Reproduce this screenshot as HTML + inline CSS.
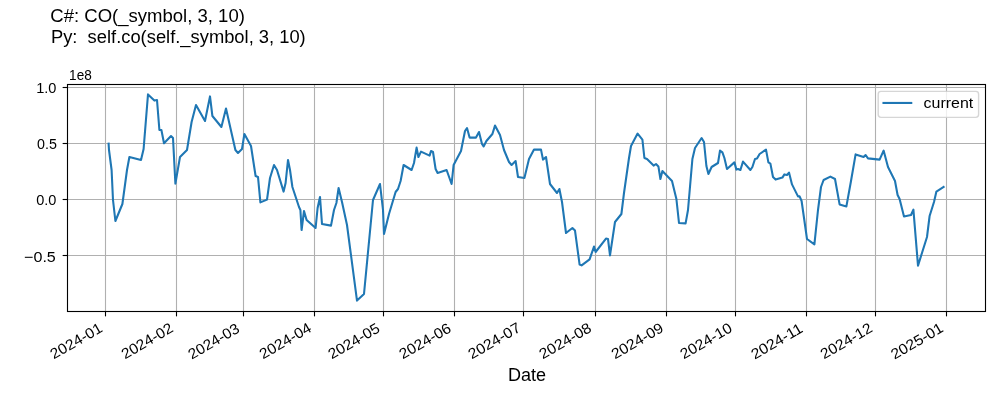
<!DOCTYPE html>
<html><head><meta charset="utf-8"><title>chart</title>
<style>
html,body{margin:0;padding:0;background:#fff;}
svg{display:block;will-change:transform;}
text{font-family:"Liberation Sans", sans-serif;fill:#000;white-space:pre;}
</style></head>
<body>
<svg width="1000" height="400" viewBox="0 0 1000 400">
<rect x="0" y="0" width="1000" height="400" fill="#fff"/>
<defs><clipPath id="ax"><rect x="67.5" y="84.5" width="918.0" height="227.0"/></clipPath></defs>
<g stroke="#b0b0b0" stroke-width="1.111" fill="none">
<line x1="105.5" y1="84.5" x2="105.5" y2="311.5"/>
<line x1="176.5" y1="84.5" x2="176.5" y2="311.5"/>
<line x1="243.5" y1="84.5" x2="243.5" y2="311.5"/>
<line x1="314.5" y1="84.5" x2="314.5" y2="311.5"/>
<line x1="383.5" y1="84.5" x2="383.5" y2="311.5"/>
<line x1="454.5" y1="84.5" x2="454.5" y2="311.5"/>
<line x1="523.5" y1="84.5" x2="523.5" y2="311.5"/>
<line x1="595.5" y1="84.5" x2="595.5" y2="311.5"/>
<line x1="666.5" y1="84.5" x2="666.5" y2="311.5"/>
<line x1="735.5" y1="84.5" x2="735.5" y2="311.5"/>
<line x1="806.5" y1="84.5" x2="806.5" y2="311.5"/>
<line x1="875.5" y1="84.5" x2="875.5" y2="311.5"/>
<line x1="946.5" y1="84.5" x2="946.5" y2="311.5"/>
<line x1="67.5" y1="87.5" x2="985.5" y2="87.5"/>
<line x1="67.5" y1="143.5" x2="985.5" y2="143.5"/>
<line x1="67.5" y1="199.5" x2="985.5" y2="199.5"/>
<line x1="67.5" y1="255.5" x2="985.5" y2="255.5"/>
</g>
<polyline clip-path="url(#ax)" points="108.6,143.6 109.0,150.0 111.6,170.0 113.0,200.0 115.4,221.0 122.4,204.0 127.0,170.0 129.4,157.0 141.0,160.0 143.6,149.0 148.0,94.4 154.4,100.6 157.0,100.0 159.4,130.0 161.4,130.0 164.0,143.2 171.0,136.0 173.0,138.0 175.4,183.6 180.0,157.0 187.0,150.0 191.6,122.0 196.0,105.0 205.0,121.0 210.0,96.4 212.4,116.0 221.4,127.0 226.0,108.6 235.4,150.0 238.0,153.0 242.0,149.0 244.4,134.0 251.0,146.0 255.6,176.0 258.0,177.0 260.4,202.4 267.0,199.6 270.0,178.0 274.0,165.0 277.0,170.0 283.6,191.6 285.6,183.0 288.0,160.0 290.0,170.0 292.4,187.0 299.0,207.0 300.4,210.0 301.6,230.0 304.0,211.0 306.6,220.0 315.6,228.0 317.6,208.0 320.0,197.0 322.0,224.0 331.0,225.6 334.0,210.0 336.4,203.0 338.6,188.0 342.0,202.0 347.0,225.0 357.0,300.6 364.0,294.0 370.6,225.0 373.0,200.0 380.0,184.0 383.0,210.0 384.0,234.0 389.0,214.0 395.6,192.0 398.0,189.0 400.6,181.0 403.6,165.0 411.6,170.0 414.0,163.0 416.6,147.6 418.4,157.0 421.0,151.6 429.6,155.6 431.0,151.0 433.0,152.0 435.6,169.0 437.6,173.0 446.6,170.0 451.6,184.0 453.6,165.0 461.0,151.0 465.0,131.0 467.0,128.0 469.6,137.6 476.0,137.6 479.0,132.0 482.0,144.0 483.6,146.4 486.4,141.0 492.4,134.0 495.0,125.6 500.0,135.0 504.0,150.0 509.0,162.0 511.6,165.0 515.6,161.0 518.0,177.0 524.4,178.0 529.0,159.0 534.0,149.6 541.0,149.6 543.0,159.6 546.0,157.0 550.0,184.0 557.0,193.0 559.4,189.0 562.0,202.0 566.0,233.0 572.4,228.0 575.0,230.6 579.6,264.6 581.6,265.4 589.6,259.4 594.0,246.6 595.6,252.0 606.0,238.6 608.0,239.0 610.0,255.4 615.0,222.0 621.4,214.0 624.0,193.0 629.0,158.0 631.0,146.0 637.6,133.6 642.4,139.6 644.4,158.0 647.0,159.0 653.6,165.6 656.0,164.0 658.4,166.4 660.4,179.0 662.4,171.0 672.0,181.0 676.4,199.0 679.0,223.0 685.6,223.4 688.0,210.0 692.4,159.0 695.0,148.0 701.6,138.0 704.0,142.0 706.4,166.0 708.4,174.0 711.6,167.0 718.0,163.0 720.0,150.6 722.4,152.4 724.4,158.0 727.0,169.0 734.4,162.4 736.4,169.6 738.0,169.0 740.4,170.0 743.0,161.6 750.4,170.0 752.4,167.0 755.0,159.0 757.0,158.6 759.6,154.0 766.0,149.6 768.4,162.4 770.4,163.6 773.0,177.0 775.6,179.6 782.4,177.6 784.4,174.4 787.0,175.0 789.0,172.6 792.0,184.4 798.0,196.4 799.6,196.4 801.6,201.0 807.0,239.0 814.4,244.4 818.0,210.0 821.0,187.0 823.6,180.0 830.4,176.6 835.0,179.0 839.6,204.4 846.4,206.4 851.0,181.0 855.6,154.4 863.6,157.0 865.6,155.0 868.0,158.4 879.6,159.6 883.6,150.6 888.0,167.0 895.0,181.0 897.6,195.0 899.6,199.0 904.0,216.4 911.0,215.0 913.4,209.6 918.0,265.6 927.0,237.0 929.6,216.0 934.0,202.0 936.4,191.6 943.6,187.0" fill="none" stroke="#1f77b4" stroke-width="2.083" stroke-linejoin="round" stroke-linecap="square"/>
<g stroke="#000" stroke-width="1.111" fill="none" stroke-linecap="square">
<rect x="67.5" y="84.5" width="918.0" height="227.0"/>
</g>
<g stroke="#000" stroke-width="1.111">
<line x1="105.5" y1="311.5" x2="105.5" y2="316.36"/>
<line x1="176.5" y1="311.5" x2="176.5" y2="316.36"/>
<line x1="243.5" y1="311.5" x2="243.5" y2="316.36"/>
<line x1="314.5" y1="311.5" x2="314.5" y2="316.36"/>
<line x1="383.5" y1="311.5" x2="383.5" y2="316.36"/>
<line x1="454.5" y1="311.5" x2="454.5" y2="316.36"/>
<line x1="523.5" y1="311.5" x2="523.5" y2="316.36"/>
<line x1="595.5" y1="311.5" x2="595.5" y2="316.36"/>
<line x1="666.5" y1="311.5" x2="666.5" y2="316.36"/>
<line x1="735.5" y1="311.5" x2="735.5" y2="316.36"/>
<line x1="806.5" y1="311.5" x2="806.5" y2="316.36"/>
<line x1="875.5" y1="311.5" x2="875.5" y2="316.36"/>
<line x1="946.5" y1="311.5" x2="946.5" y2="316.36"/>
<line x1="62.64" y1="87.5" x2="67.5" y2="87.5"/>
<line x1="62.64" y1="143.5" x2="67.5" y2="143.5"/>
<line x1="62.64" y1="199.5" x2="67.5" y2="199.5"/>
<line x1="62.64" y1="255.5" x2="67.5" y2="255.5"/>
</g>
<rect x="878.2" y="91.4" width="100.4" height="26.0" rx="2.78" ry="2.78" fill="#fff" fill-opacity="0.8" stroke="#ccc" stroke-opacity="0.8" stroke-width="1.389"/>
<line x1="883.49" y1="102.94" x2="911.26" y2="102.94" stroke="#1f77b4" stroke-width="2.083" stroke-linecap="square"/>
<text id="x_2024-01" transform="translate(53.86 359.58) rotate(-30)" font-size="14.76" textLength="57.22" lengthAdjust="spacingAndGlyphs">2024-01</text>
<text id="x_2024-02" transform="translate(124.90 359.57) rotate(-30)" font-size="14.76" textLength="57.06" lengthAdjust="spacingAndGlyphs">2024-02</text>
<text id="x_2024-03" transform="translate(191.82 359.66) rotate(-30)" font-size="14.76" textLength="56.43" lengthAdjust="spacingAndGlyphs">2024-03</text>
<text id="x_2024-04" transform="translate(263.04 359.48) rotate(-30)" font-size="14.76" textLength="57.22" lengthAdjust="spacingAndGlyphs">2024-04</text>
<text id="x_2024-05" transform="translate(331.78 359.57) rotate(-30)" font-size="14.76" textLength="56.85" lengthAdjust="spacingAndGlyphs">2024-05</text>
<text id="x_2024-06" transform="translate(402.78 359.57) rotate(-30)" font-size="14.76" textLength="57.03" lengthAdjust="spacingAndGlyphs">2024-06</text>
<text id="x_2024-07" transform="translate(471.83 359.56) rotate(-30)" font-size="14.76" textLength="57.62" lengthAdjust="spacingAndGlyphs">2024-07</text>
<text id="x_2024-08" transform="translate(542.79 359.57) rotate(-30)" font-size="14.76" textLength="57.50" lengthAdjust="spacingAndGlyphs">2024-08</text>
<text id="x_2024-09" transform="translate(614.92 359.55) rotate(-30)" font-size="14.76" textLength="57.39" lengthAdjust="spacingAndGlyphs">2024-09</text>
<text id="x_2024-10" transform="translate(683.74 359.58) rotate(-30)" font-size="14.76" textLength="57.30" lengthAdjust="spacingAndGlyphs">2024-10</text>
<text id="x_2024-11" transform="translate(754.67 359.65) rotate(-30)" font-size="14.76" textLength="56.82" lengthAdjust="spacingAndGlyphs">2024-11</text>
<text id="x_2024-12" transform="translate(823.94 359.59) rotate(-30)" font-size="14.76" textLength="57.16" lengthAdjust="spacingAndGlyphs">2024-12</text>
<text id="x_2025-01" transform="translate(894.45 359.77) rotate(-30)" font-size="14.76" textLength="57.72" lengthAdjust="spacingAndGlyphs">2025-01</text>
<text id="xlabel" x="527.09" y="381.14" text-anchor="middle" font-size="17.72" textLength="38.11" lengthAdjust="spacingAndGlyphs">Date</text>
<text id="y_−0.5" x="55.80" y="261.55" text-anchor="end" font-size="14.76" textLength="31.73" lengthAdjust="spacingAndGlyphs">−0.5</text>
<text id="y_0.0" x="56.46" y="204.76" text-anchor="end" font-size="14.76" textLength="20.21" lengthAdjust="spacingAndGlyphs">0.0</text>
<text id="y_0.5" x="56.87" y="149.23" text-anchor="end" font-size="14.76" textLength="19.90" lengthAdjust="spacingAndGlyphs">0.5</text>
<text id="y_1.0" x="56.37" y="93.06" text-anchor="end" font-size="14.76" textLength="20.23" lengthAdjust="spacingAndGlyphs">1.0</text>
<text id="offset" x="69.08" y="80.08" text-anchor="start" font-size="14.76" textLength="22.66" lengthAdjust="spacingAndGlyphs">1e8</text>
<text id="legend" x="923.59" y="107.81" text-anchor="start" font-size="14.76" textLength="49.64" lengthAdjust="spacingAndGlyphs">current</text>
<text id="title1" x="50.30" y="22.00" text-anchor="start" font-size="17.72" textLength="194.58" lengthAdjust="spacingAndGlyphs">C#: CO(_symbol, 3, 10)</text>
<text id="title2" x="50.94" y="42.98" text-anchor="start" font-size="17.72" textLength="254.79" lengthAdjust="spacingAndGlyphs">Py:  self.co(self._symbol, 3, 10)</text>
</svg>
</body></html>
